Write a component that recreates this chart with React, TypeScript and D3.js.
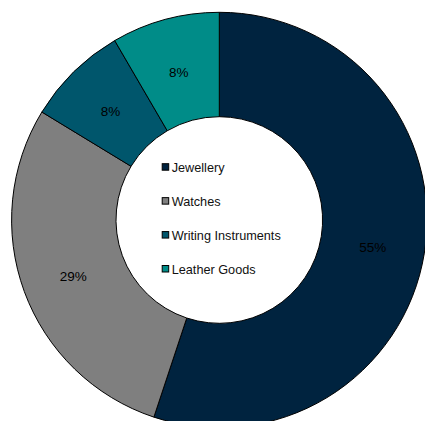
import React from "react";
import * as d3 from "d3";

const categories = ["Jewellery", "Watches", "Writing Instruments", "Leather Goods"];
const values = [55.1, 28.6, 7.9, 8.4];
const colors = ["#00233F", "#7F7F7F", "#00566C", "#008C88"];

const W = 425;
const H = 421;
const cx = 219.3;
const cy = 220;
const outerR = 207.7;
const innerR = 103.3;
const font = "'Liberation Sans', Arial, sans-serif";

export default function App() {
  const pie = d3.pie<number>().sort(null).value((d) => d)(values);
  const arc = d3.arc<d3.PieArcDatum<number>>().innerRadius(innerR).outerRadius(outerR);
  const labelArc = d3
    .arc<d3.PieArcDatum<number>>()
    .innerRadius((innerR + outerR) / 2)
    .outerRadius((innerR + outerR) / 2);
  const total = d3.sum(values);

  const legendY = d3.scalePoint<string>().domain(categories).range([171.7, 273.5]);

  return (
    <svg
      width={W}
      height={H}
      style={{ position: "absolute", left: 0, top: 0, background: "#fff" }}
    >
      <g transform={`translate(${cx},${cy})`}>
        {pie.map((p, i) => (
          <path key={i} d={arc(p) || ""} fill={colors[i]} stroke="#000" strokeWidth={1} />
        ))}
        {pie.map((p, i) => {
          const [x, y] = labelArc.centroid(p);
          return (
            <text
              key={"l" + i}
              x={x}
              y={y + 7}
              textAnchor="middle"
              fontFamily={font}
              fontSize={13.5}
              fill="#000"
            >
              {Math.round((p.value / total) * 100)}%
            </text>
          );
        })}
      </g>
      {categories.map((c, i) => {
        const by = legendY(c) as number;
        return (
          <g key={"lg" + i}>
            <rect
              x={162.2}
              y={by - 8}
              width={6.5}
              height={6.5}
              fill={colors[i]}
              stroke="#000"
              strokeWidth={1}
            />
            <text x={171.7} y={by} fontFamily={font} fontSize={12.7} fill="#111">
              {c}
            </text>
          </g>
        );
      })}
    </svg>
  );
}
